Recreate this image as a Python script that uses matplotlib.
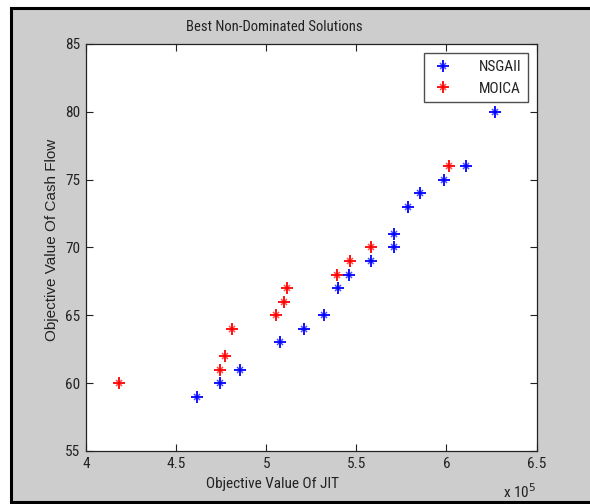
import matplotlib
matplotlib.use("Agg")
import matplotlib.pyplot as plt
from matplotlib.patches import Rectangle
from matplotlib.ticker import FuncFormatter
from matplotlib.legend_handler import HandlerTuple

# ---- data ----
nsga_jit = [461800, 474100, 485200, 507800, 520700, 532200, 539800, 545700,
            558100, 570700, 571100, 578700, 585600, 598700, 610900, 627000]
nsga_cf = [59, 60, 61, 63, 64, 65, 67, 68, 69, 70, 71, 73, 74, 75, 76, 80]

moica_jit = [418500, 474400, 477200, 480900, 505600, 510000, 511500,
             539300, 546700, 558100, 601700]
moica_cf = [60, 61, 62, 64, 65, 66, 67, 68, 69, 70, 76]

series_names = ["NSGAII", "MOICA"]
title = "Best Non-Dominated Solutions"
xlabel = "Objective Value Of JIT"
ylabel = "Objective Value Of Cash Flow"
xticks = [400000, 450000, 500000, 550000, 600000, 650000]
yticks = [55, 60, 65, 70, 75, 80, 85]

W, H = 590, 504
NARROW = ["Roboto Condensed", "Liberation Sans", "DejaVu Sans"]
REG = ["Liberation Sans", "DejaVu Sans"]
FS = 11
TXT = "#222222"

fig = plt.figure(figsize=(W / 100, H / 100), dpi=100, facecolor="white")
# grey figure panel with black border
fig.patches.append(Rectangle((11 / W, 2 / H), 1.0, 1 - 10 / H,
                             transform=fig.transFigure, facecolor="#cdcdcd",
                             edgecolor="black", linewidth=2.2, zorder=-10))

ax = fig.add_axes([86 / W, 53 / H, (536.5 - 86) / W, (451 - 44) / H])
ax.set_facecolor("white")

handles = []
for xs, ys, col in ((nsga_jit, nsga_cf, "#0000ff"), (moica_jit, moica_cf, "#ff0000")):
    h1, = ax.plot(xs, ys, linestyle="none", marker="+", markersize=8.5,
                  markeredgewidth=1.3, color=col)
    h2, = ax.plot(xs, ys, linestyle="none", marker="x", markersize=5,
                  markeredgewidth=1.1, color=col, alpha=0.7)
    handles.append((h1, h2))

ax.set_xlim(400000, 650000)
ax.set_ylim(55, 85)
ax.set_xticks(xticks)
ax.set_yticks(yticks)
ax.xaxis.set_major_formatter(FuncFormatter(lambda v, p: "%g" % (v / 1e5)))
ax.yaxis.set_major_formatter(FuncFormatter(lambda v, p: "%g" % v))
ax.tick_params(direction="in", top=True, right=True, length=5, width=0.8,
               color="#222222", pad=4, labelcolor=TXT)
for lab in ax.get_xticklabels() + ax.get_yticklabels():
    lab.set_family(NARROW)
    lab.set_fontsize(FS)
for s in ax.spines.values():
    s.set_linewidth(0.9)
    s.set_color("#222222")

leg = ax.legend(handles, series_names, loc="upper right",
                bbox_to_anchor=(528 / W, (504 - 53) / H),
                bbox_transform=fig.transFigure, frameon=True, fancybox=False,
                prop={"family": NARROW, "size": FS}, numpoints=1,
                handler_map={tuple: HandlerTuple(ndivide=1)},
                handlelength=1.6, handletextpad=1.5, borderpad=0.45,
                borderaxespad=0, labelspacing=0.5)
leg.get_frame().set_edgecolor("#222222")
leg.get_frame().set_linewidth(1.0)
for t in leg.get_texts():
    t.set_color(TXT)

fig.text(274 / W, 1 - 27 / H, title, ha="center", va="center",
         family=NARROW, fontsize=10.5, color=TXT)
fig.text(272 / W, 1 - 484 / H, xlabel, ha="center", va="center",
         family=NARROW, fontsize=FS, color=TXT)
fig.text(52 / W, 1 - 240 / H, ylabel, ha="center", va="center",
         rotation=90, family=REG, fontsize=FS, color=TXT)
fig.text(520 / W, 1 - 492 / H, "x 10$^{5}$", ha="center", va="center",
         family=NARROW, fontsize=FS, color=TXT)

fig.savefig("out.png", dpi=100, facecolor="white")
